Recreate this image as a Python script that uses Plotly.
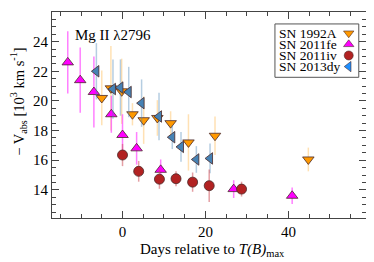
import plotly.graph_objects as go

# ---- data ----
sn92_x = [-5.0, -2.8, -0.2, 2.4, 5.1, 8.4, 11.6, 15.9, 22.3, 44.8]
sn92_y = [20.2, 20.85, 20.65, 19.1, 18.7, 18.85, 18.5, 17.2, 17.65, 16.05]
sn92_e = [1.85, 2.85, 2.2, 0.75, 1.6, 1.2, 0.8, 1.9, 1.3, 0.8]

sn11fe_x = [-13.2, -10.2, -6.9, -2.7, 0.0, 3.4, 9.2, 26.8, 40.9]
sn11fe_y = [22.6, 21.4, 20.6, 19.1, 17.7, 16.8, 15.35, 14.05, 13.6]
sn11fe_e = [2.1, 2.2, 2.4, 1.25, 1.4, 1.1, 0.7, 0.6, 0.55]

sn11iv_x = [0.0, 3.9, 8.9, 12.9, 16.9, 20.9, 28.7]
sn11iv_y = [16.35, 15.25, 14.72, 14.75, 14.52, 14.28, 14.05]
sn11iv_e = [0.75, 0.7, 0.65, 0.5, 0.65, 1.1, 0.5]

sn13dy_x = [-6.3, -2.3, -0.5, 1.5, 4.6, 8.8, 12.0, 14.1, 17.8, 21.1]
sn13dy_y = [22.0, 20.8, 20.9, 20.6, 19.85, 18.95, 17.55, 16.9, 16.05, 16.12]
sn13dy_e = [1.9, 2.0, 1.9, 1.7, 1.6, 1.6, 0.8, 1.0, 0.9, 1.0]

legend_names = ["SN 1992A", "SN 2011fe", "SN 2011iv", "SN 2013dy"]
line_label = "Mg II λ2796"

FONT = "Liberation Serif"

series = [
    (sn92_x, sn92_y, sn92_e, "#FF9900", "rgba(255,170,40,0.35)", "triangle-down", 10),
    (sn11fe_x, sn11fe_y, sn11fe_e, "#FF00FF", "rgba(255,60,255,0.65)", "triangle-up", 10),
    (sn13dy_x, sn13dy_y, sn13dy_e, "#4682B4", "rgba(70,130,180,0.4)", "triangle-left", 10),
    (sn11iv_x, sn11iv_y, sn11iv_e, "#B22222", "rgba(205,80,90,0.55)", "circle", 10),
]

fig = go.Figure()
for x, y, e, col, ecol, sym, sz in series:
    fig.add_trace(go.Scatter(
        x=x, y=y, mode="markers",
        error_y=dict(type="data", array=e, color=ecol, thickness=1.5, width=0),
        marker=dict(symbol=sym, size=sz, color=col,
                    line=dict(color="#4a2a2a", width=0.8)),
        showlegend=False,
    ))

# custom legend (text left, marker right)
leg_cols = ["#FF9900", "#FF00FF", "#B22222", "#1E8FFF"]
leg_syms = ["triangle-down", "triangle-up", "circle", "triangle-left"]
leg_y = [0.897, 0.843, 0.789, 0.735]
for name, c, s, yy in zip(legend_names, leg_cols, leg_syms, leg_y):
    fig.add_trace(go.Scatter(
        x=[0.945], y=[yy], xaxis="x2", yaxis="y2", mode="markers",
        marker=dict(symbol=s, size=9, color=c, line=dict(color="#4a2a2a", width=0.6)),
        showlegend=False, hoverinfo="skip"))
    fig.add_annotation(x=0.715, y=yy, xref="paper", yref="paper", text=name,
                       showarrow=False, xanchor="left", yanchor="middle",
                       font=dict(family=FONT, size=13.5, color="black"))

fig.add_shape(type="rect", xref="paper", yref="paper",
              x0=0.710, x1=0.977, y0=0.683, y1=0.942,
              line=dict(color="#555555", width=1), fillcolor="rgba(0,0,0,0)")

fig.add_annotation(x=0.067, y=0.89, xref="paper", yref="paper", text=line_label,
                   showarrow=False, xanchor="left", yanchor="middle",
                   font=dict(family=FONT, size=15, color="black"))

fig.add_annotation(x=-0.108, y=0.565, xref="paper", yref="paper",
                   text="− V<sub>abs</sub> [10<sup>3</sup> km s<sup>-1</sup>]",
                   textangle=-90, showarrow=False, xanchor="center", yanchor="middle",
                   font=dict(family=FONT, size=14.5, color="black"))
fig.add_annotation(x=0.511, y=-0.155, xref="paper", yref="paper",
                   text="Days relative to <i>T(B)</i><sub>max</sub>",
                   showarrow=False, xanchor="center", yanchor="middle",
                   font=dict(family=FONT, size=15, color="black"))

axis_common = dict(showline=True, linecolor="#444444", linewidth=1, mirror="ticks",
                   ticks="inside", tickcolor="#444444", ticklen=7, tickwidth=1,
                   showgrid=False, zeroline=False,
                   tickfont=dict(family=FONT, size=15, color="black"))

# page body has an 8px margin, so the figure is sized/offset to compensate
fig.update_layout(
    width=366, height=254,
    margin=dict(l=44, r=8, t=4, b=44),
    paper_bgcolor="white", plot_bgcolor="white",
    xaxis=dict(range=[-17.0, 58.7], tickvals=[0, 20, 40],
               minor=dict(dtick=5, tick0=0, ticks="inside", ticklen=4,
                          tickcolor="#444444", showgrid=False),
               **axis_common),
    yaxis=dict(range=[12.1, 26.0], dtick=2, tick0=0,
               minor=dict(dtick=0.5, tick0=0, ticks="inside", ticklen=4,
                          tickcolor="#444444", showgrid=False),
               **axis_common),
    xaxis2=dict(range=[0, 1], domain=[0, 1], overlaying="x", visible=False, fixedrange=True),
    yaxis2=dict(range=[0, 1], domain=[0, 1], overlaying="y", visible=False, fixedrange=True,
                anchor="x2"),
    showlegend=False,
)

fig.write_html("out.html")
